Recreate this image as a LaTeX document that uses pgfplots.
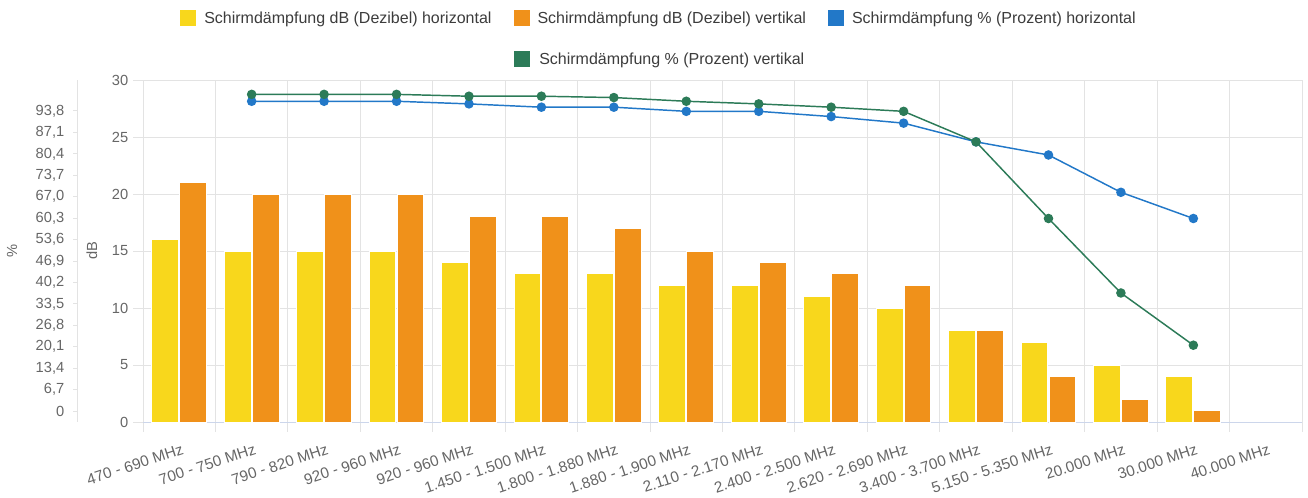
\documentclass[border=0pt]{standalone}
\usepackage{fontspec}
\setmainfont{Liberation Sans}
\usepackage{pgfplots}
\pgfplotsset{compat=1.18}

\definecolor{cYel}{HTML}{F8D71C}
\definecolor{cOra}{HTML}{F0911A}
\definecolor{cBlu}{HTML}{2278C8}
\definecolor{cGrn}{HTML}{2C7B58}
\definecolor{cGrid}{HTML}{E3E3E3}
\definecolor{cAxis}{HTML}{CCD6EB}
\definecolor{cTxt}{HTML}{666666}
\definecolor{cLeg}{HTML}{3C3C3C}

\begin{document}
\begin{tikzpicture}
\useasboundingbox (0,0) rectangle (981pt,372.75pt);

% dB axis: columns, category grid, legend
\begin{axis}[
    at={(107.25pt,56.25pt)}, anchor=south west,
    scale only axis, width=869.25pt, height=256.5pt,
    xmin=-0.5, xmax=15.5, ymin=0, ymax=30,
    xtick={0,...,15},
    xticklabels={470 - 690 MHz, 700 - 750 MHz, 790 - 820 MHz, 920 - 960 MHz,
      920 - 960 MHz, 1.450 - 1.500 MHz, 1.800 - 1.880 MHz, 1.880 - 1.900 MHz,
      2.110 - 2.170 MHz, 2.400 - 2.500 MHz, 2.620 - 2.690 MHz, 3.400 - 3.700 MHz,
      5.150 - 5.350 MHz, 20.000 MHz, 30.000 MHz, 40.000 MHz},
    minor xtick={-0.5,0.5,...,15.5},
    ytick={0,5,...,30},
    xminorgrids=true, ymajorgrids=true,
    grid style={cGrid, line width=0.75pt},
    minor grid style={cGrid, line width=0.75pt},
    major x tick style={draw=none},
    minor x tick style={cGrid, line width=0.75pt},
    y tick style={cGrid, line width=0.75pt},
    major tick length=7.5pt, minor tick length=7.5pt,
    tick align=outside,
    axis x line*=bottom, axis y line*=left,
    x axis line style={cAxis, line width=0.75pt, -},
    y axis line style={draw=none},
    /pgf/number format/assume math mode=true,
    yticklabel style={font=\fontsize{11}{13}\selectfont, text=cTxt},
    xticklabel style={font=\fontsize{11.5}{13}\selectfont, text=cTxt, inner sep=0pt,
      xshift=2.85pt, yshift=-12.75pt, rotate=18, anchor=east},
    ylabel={dB},
    every axis y label/.style={at={(axis description cs:-0.044,0.5)}, rotate=90,
      anchor=center, font=\fontsize{11}{13}\selectfont, text=cTxt},
    legend columns=3,
    legend image code/.code={\fill[#1] (0pt,-6pt) rectangle (12pt,6pt);},
    legend style={at={(0,1)}, anchor=north west, xshift=27.75pt, yshift=52.5pt,
      draw=none, fill=none, inner sep=0pt, font=\fontsize{12}{14}\selectfont,
      text=cLeg, row sep=18.75pt, nodes={inner sep=0pt},
      /tikz/every odd column/.append style={column sep=6pt},
      /tikz/every even column/.append style={column sep=16.5pt}},
  ]
  \addlegendimage{fill=cYel, draw=none}
  \addlegendentry{Schirmdämpfung dB (Dezibel) horizontal}
  \addlegendimage{fill=cOra, draw=none}
  \addlegendentry{Schirmdämpfung dB (Dezibel) vertikal}
  \addlegendimage{fill=cBlu, draw=none}
  \addlegendentry{Schirmdämpfung \% (Prozent) horizontal}
  \addlegendimage{empty legend}
  \addlegendentry{}
  \addlegendimage{fill=cGrn, draw=none}
  \addlegendentry{Schirmdämpfung \% (Prozent) vertikal}

  % dB horizontal
  \addplot[ybar, bar width=0.37, bar shift=-0.193, fill=cYel, draw=white,
    line width=0.75pt, forget plot] coordinates {
    (0,16) (1,15) (2,15) (3,15) (4,14) (5,13) (6,13) (7,12)
    (8,12) (9,11) (10,10) (11,8) (12,7) (13,5) (14,4)
  };
  % dB vertikal
  \addplot[ybar, bar width=0.37, bar shift=0.193, fill=cOra, draw=white,
    line width=0.75pt, forget plot] coordinates {
    (0,21) (1,20) (2,20) (3,20) (4,18) (5,18) (6,17) (7,15)
    (8,14) (9,13) (10,12) (11,8) (12,4) (13,2) (14,1)
  };
\end{axis}

% percent axis: lines
\begin{axis}[
    at={(58.5pt,56.25pt)}, anchor=south west,
    scale only axis, width=918pt, height=256.5pt,
    xmin=-1.3973, xmax=15.5, ymin=-3.439, ymax=103.49,
    axis x line=none, axis y line*=left,
    y axis line style={cGrid, line width=0.75pt, -},
    ytick={0,6.7,13.4,20.1,26.8,33.5,40.2,46.9,53.6,60.3,67.0,73.7,80.4,87.1,93.8},
    yticklabels={0,{6,7},{13,4},{20,1},{26,8},{33,5},{40,2},{46,9},{53,6},{60,3},
      {67,0},{73,7},{80,4},{87,1},{93,8}},
    y tick style={cGrid, line width=0.75pt},
    major tick length=3.75pt,
    tick align=outside,
    yticklabel style={font=\fontsize{11}{13}\selectfont, text=cTxt, xshift=-3pt},
    ylabel={\%},
    every axis y label/.style={at={(axis description cs:-0.0539,0.5)}, rotate=90,
      anchor=center, font=\fontsize{11}{13}\selectfont, text=cTxt},
    clip=false,
  ]
  % % horizontal
  \addplot[cBlu, line width=1.1pt, mark=*, mark size=3pt,
    mark options={fill=cBlu, draw=cBlu}] coordinates {
    (1,96.84) (2,96.84) (3,96.84) (4,96.02) (5,94.99) (6,94.99) (7,93.69)
    (8,93.69) (9,92.06) (10,90.00) (11,84.15) (12,80.05) (13,68.38) (14,60.19)
  };
  % % vertikal
  \addplot[cGrn, line width=1.1pt, mark=*, mark size=3pt,
    mark options={fill=cGrn, draw=cGrn}] coordinates {
    (1,99.00) (2,99.00) (3,99.00) (4,98.42) (5,98.42) (6,98.00) (7,96.84)
    (8,96.02) (9,94.99) (10,93.69) (11,84.15) (12,60.19) (13,36.90) (14,20.57)
  };
\end{axis}
\end{tikzpicture}
\end{document}
